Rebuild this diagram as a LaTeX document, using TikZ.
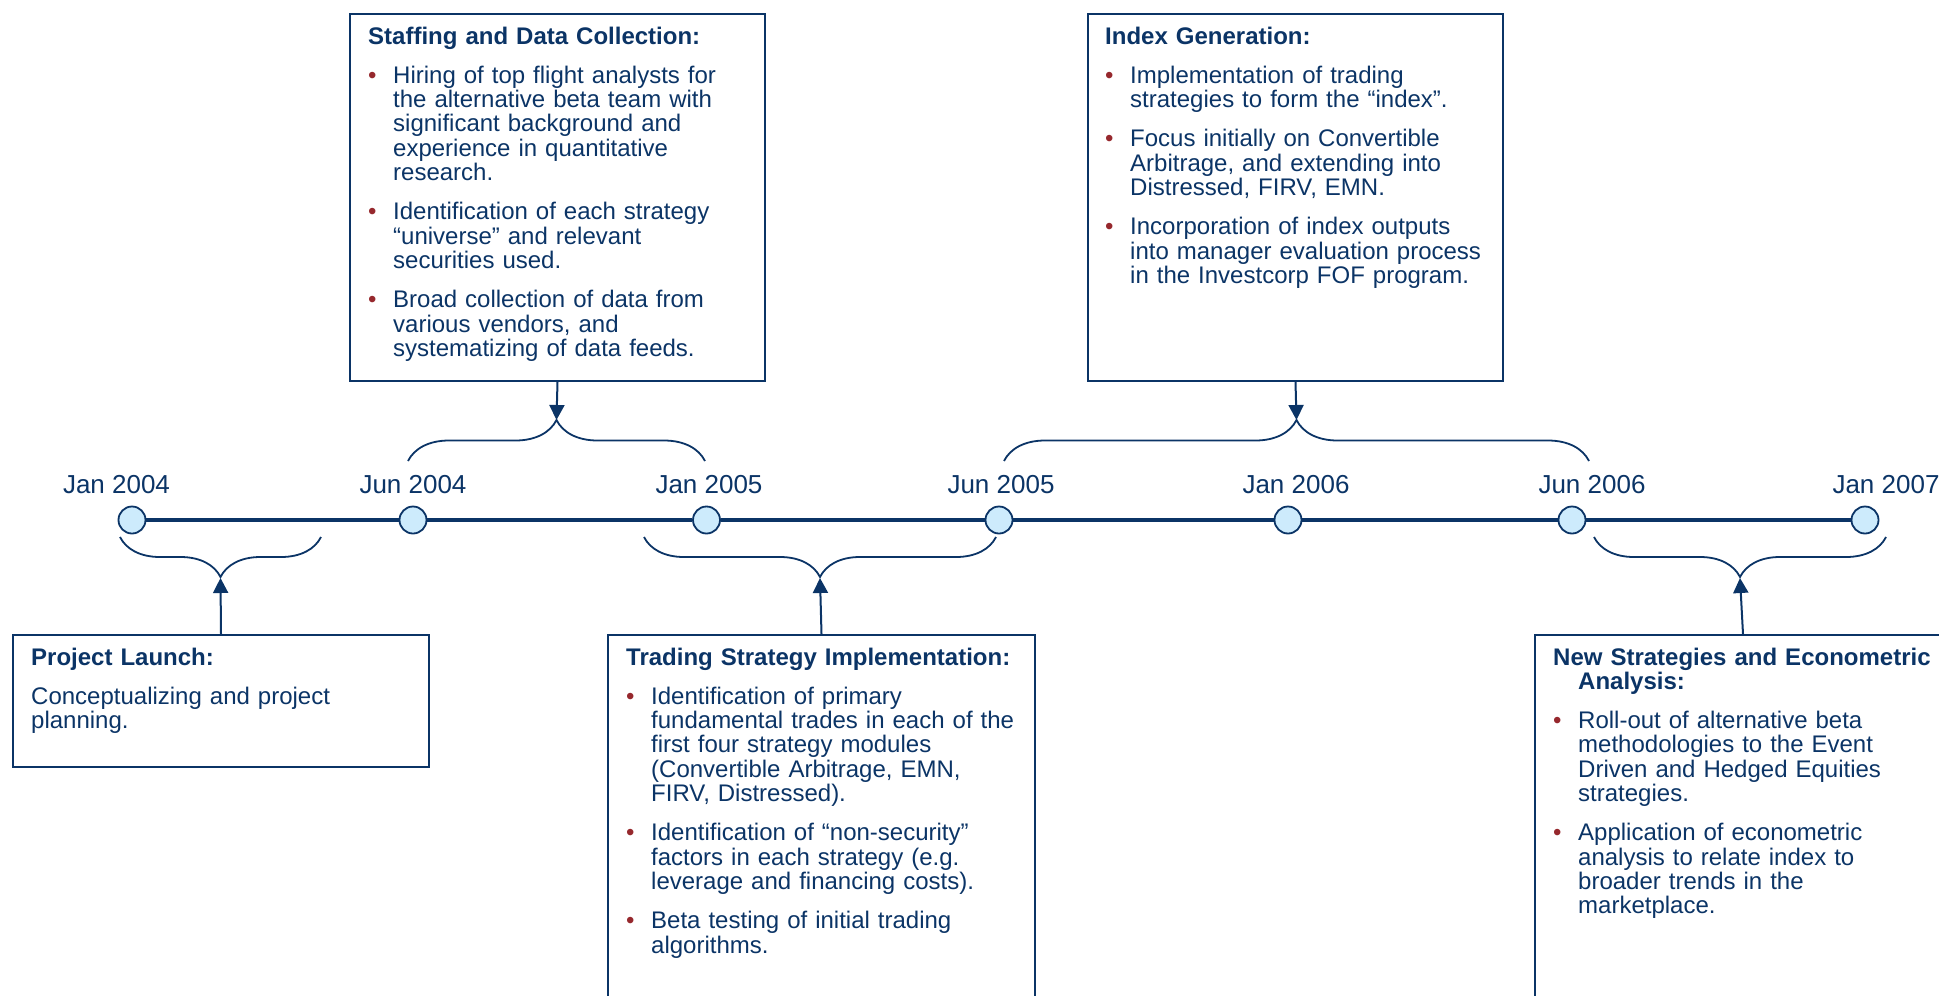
\documentclass[tikz,border=0pt]{standalone}
\usepackage{fontspec}
\setmainfont{Liberation Sans}
\usetikzlibrary{arrows.meta}
\usetikzlibrary{decorations.pathreplacing}
\usetikzlibrary{positioning}
\definecolor{navy}{RGB}{11,52,102}
\definecolor{dotred}{RGB}{150,40,45}
\definecolor{dotblue}{RGB}{205,235,252}
\tikzset{datedot/.style = {circle, draw = navy, fill = dotblue, line width = 1.8pt, minimum size = 27pt, inner sep = 0}}
\tikzset{datelabel/.style = {anchor = base, text = navy, inner sep = 0, font = \fontsize{26}{30}\selectfont}}
\tikzset{timeline/.style = {draw = navy, line width = 4.5pt}}
\tikzset{panel/.style = {draw = navy, line width = 2pt, anchor = north west, inner sep = 0}}
\tikzset{paneltext/.style = {anchor = base west, text = navy, inner sep = 0, text width = 400pt, font = \fontsize{24}{24.3}\selectfont}}
\tikzset{span/.style = {draw = navy, line width = 1.8pt, decorate, decoration = {brace, amplitude = 41pt}}}
\tikzset{spanlow/.style = {draw = navy, line width = 1.8pt, decorate, decoration = {brace, mirror, amplitude = 40pt}}}
\tikzset{pointer/.style = {draw = navy, line width = 2pt, -{Triangle[width = 15pt, length = 15pt]}}}
\newcommand{\panelhead}[1]{\hangindent=25pt\hangafter=1\textbf{#1}\par}
\newcommand{\panelitem}{\par\vspace{15pt}\noindent\hangindent=25pt\hangafter=1\makebox[25pt][l]{\textcolor{dotred}{\textbullet}}}

\begin{document}
\begin{tikzpicture}[x = 1pt, y = -1pt]
    \useasboundingbox (0, 0) rectangle (1939, 996);
    \clip (0, 0) rectangle (1939, 996);

    % timeline
    \foreach \n/\x in {jan04/132, jun04/413, jan05/706.5, jun05/999, jan06/1288, jun06/1572, jan07/1865}
        \node [datedot] (\n) at (\x, 520) {};
    \foreach \a/\b in {jan04/jun04, jun04/jan05, jan05/jun05, jun05/jan06, jan06/jun06, jun06/jan07}
        \draw [timeline] (\a) -- (\b);

    \foreach \n/\x/\t in {jan04/116.5/Jan 2004, jun04/413/Jun 2004, jan05/709/Jan 2005, jun05/1001/Jun 2005,
                          jan06/1296/Jan 2006, jun06/1592/Jun 2006, jan07/1886/Jan 2007}
        \node [datelabel] (lbl\n) at (\x, 493) {\t};

    % project launch
    \node [panel, minimum width = 416pt, minimum height = 132pt] (launch) at (12, 634) {};
    \node [paneltext] (launchtext) at (31, 665) {
        \panelhead{Project Launch:}
        \vspace{15pt}Conceptualizing and project\newline planning.\par};
    \coordinate (launchL) at (120, 537);
    \coordinate (launchR) at (321, 537);
    \coordinate (launchTip) at (220.5, 578);
    \draw [spanlow] (launchL) -- (launchR);
    \draw [pointer] (launch.north) -- (launchTip);

    % staffing and data collection
    \node [panel, minimum width = 415pt, minimum height = 367pt] (staff) at (349, 13) {};
    \node [paneltext] (stafftext) at (368, 44) {
        \panelhead{Staffing and Data Collection:}
        \panelitem Hiring of top flight analysts for\newline the alternative beta team with\newline
            significant background and\newline experience in quantitative\newline research.
        \panelitem Identification of each strategy\newline “universe” and relevant\newline securities used.
        \panelitem Broad collection of data from\newline various vendors, and\newline systematizing of data feeds.\par};
    \coordinate (staffL) at (408, 461);
    \coordinate (staffR) at (705, 461);
    \coordinate (staffTip) at (556.5, 420);
    \draw [span] (staffL) -- (staffR);
    \draw [pointer] (staff.south) -- (staffTip);

    % trading strategy implementation
    \node [panel, minimum width = 427pt, minimum height = 400pt] (trading) at (607, 634) {};
    \node [paneltext] (tradingtext) at (626, 665) {
        \panelhead{Trading Strategy Implementation:}
        \panelitem Identification of primary\newline fundamental trades in each of the\newline
            first four strategy modules\newline (Convertible Arbitrage, EMN,\newline FIRV, Distressed).
        \panelitem Identification of “non-security”\newline factors in each strategy (e.g.\newline
            leverage and financing costs).
        \panelitem Beta testing of initial trading\newline algorithms.\par};
    \coordinate (tradingL) at (644, 537);
    \coordinate (tradingR) at (996, 537);
    \coordinate (tradingTip) at (820, 578);
    \draw [spanlow] (tradingL) -- (tradingR);
    \draw [pointer] (trading.north) -- (tradingTip);

    % index generation
    \node [panel, minimum width = 415pt, minimum height = 367pt] (index) at (1087, 13) {};
    \node [paneltext] (indextext) at (1105, 44) {
        \panelhead{Index Generation:}
        \panelitem Implementation of trading\newline strategies to form the “index”.
        \panelitem Focus initially on Convertible\newline Arbitrage, and extending into\newline
            Distressed, FIRV, EMN.
        \panelitem Incorporation of index outputs\newline into manager evaluation process\newline
            in the Investcorp FOF program.\par};
    \coordinate (indexL) at (1004, 461);
    \coordinate (indexR) at (1589, 461);
    \coordinate (indexTip) at (1296.5, 420);
    \draw [span] (indexL) -- (indexR);
    \draw [pointer] (index.south) -- (indexTip);

    % new strategies
    \node [panel, minimum width = 416pt, minimum height = 400pt] (newstrat) at (1534, 634) {};
    \node [paneltext] (newstrattext) at (1553, 665) {
        \panelhead{New Strategies and Econometric\newline Analysis:}
        \panelitem Roll-out of alternative beta\newline methodologies to the Event\newline
            Driven and Hedged Equities\newline strategies.
        \panelitem Application of econometric\newline analysis to relate index to\newline
            broader trends in the\newline marketplace.\par};
    \coordinate (newstratL) at (1594, 537);
    \coordinate (newstratR) at (1886, 537);
    \coordinate (newstratTip) at (1740, 578);
    \draw [spanlow] (newstratL) -- (newstratR);
    \draw [pointer] (newstrat.north) -- (newstratTip);
\end{tikzpicture}
\end{document}
